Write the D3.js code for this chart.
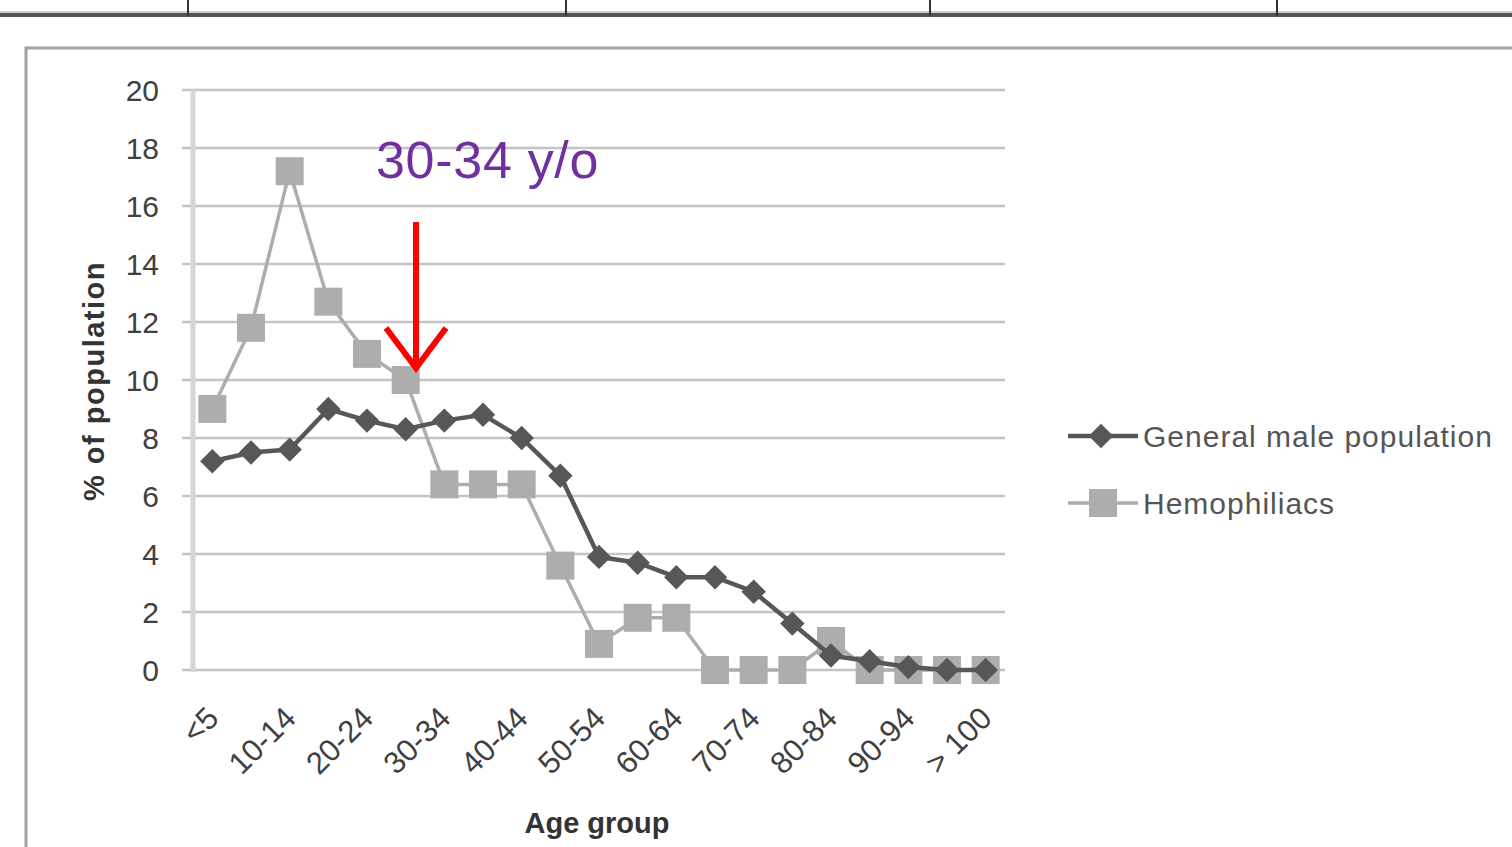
<!DOCTYPE html>
<html>
<head>
<meta charset="utf-8">
<script src="https://cdn.jsdelivr.net/npm/d3@7"></script>
<style>
  html, body { margin: 0; padding: 0; background: #fff; overflow: hidden; }
  svg { display: block; }
  text { font-family: "Liberation Sans", Arial, sans-serif; }
</style>
</head>
<body>
<svg id="chart" width="1512" height="847"></svg>
<script>
'use strict';

// ── Data ──────────────────────────────────────────────────────────────────
const ageGroups = ['<5', '5-9', '10-14', '15-19', '20-24', '25-29', '30-34', '35-39', '40-44', '45-49',
                   '50-54', '55-59', '60-64', '65-69', '70-74', '75-79', '80-84', '85-89', '90-94', '95-99', '> 100'];
const generalMale  = [7.2, 7.5, 7.6, 9.0, 8.6, 8.3, 8.6, 8.8, 8.0, 6.7, 3.9, 3.7, 3.2, 3.2, 2.7, 1.6, 0.5, 0.3, 0.1, 0, 0];
const hemophiliacs = [9.0, 11.8, 17.2, 12.7, 10.9, 10.0, 6.4, 6.4, 6.4, 3.6, 0.9, 1.8, 1.8, 0, 0, 0, 1.0, 0, 0, 0, 0];
const yTicks = [0, 2, 4, 6, 8, 10, 12, 14, 16, 18, 20];
const seriesNames = ['General male population', 'Hemophiliacs'];
const tableCols = [188, 566, 930, 1277];

const svg = d3.select('#chart');

// ── Table remnant at top + chart frame ───────────────────────────────────
svg.append('line').attr('x1', 0).attr('x2', 1512).attr('y1', 15).attr('y2', 15)
  .attr('stroke', '#555').attr('stroke-width', 4);
svg.append('line').attr('x1', 0).attr('x2', 1512).attr('y1', 12).attr('y2', 12)
  .attr('stroke', '#ccc').attr('stroke-width', 2);
svg.selectAll('.tcol').data(tableCols).join('line')
  .attr('x1', d => d).attr('x2', d => d).attr('y1', 0).attr('y2', 16)
  .attr('stroke', '#333').attr('stroke-width', 2);
svg.append('rect').attr('x', 26).attr('y', 48).attr('width', 1530).attr('height', 850)
  .attr('fill', 'none').attr('stroke', '#a0a0a0').attr('stroke-width', 3);

// ── Scales ────────────────────────────────────────────────────────────────
const x = d3.scaleBand().domain(ageGroups).range([193, 1005]);
const y = d3.scaleLinear().domain([0, 20]).range([670, 90]);
const cx = d => x(d) + x.bandwidth() / 2;

// gridlines
svg.append('g').selectAll('line').data(yTicks).join('line')
  .attr('x1', 182).attr('x2', 1005)
  .attr('y1', d => y(d)).attr('y2', d => y(d))
  .attr('stroke', '#c4c4c4').attr('stroke-width', 2.5);
// y axis line
svg.append('line').attr('x1', 193).attr('x2', 193).attr('y1', 90).attr('y2', 672)
  .attr('stroke', '#d6d6d6').attr('stroke-width', 5);

// y tick labels
svg.append('g').selectAll('text').data(yTicks).join('text')
  .attr('x', 159).attr('y', d => y(d)).attr('dy', '0.36em')
  .attr('text-anchor', 'end').attr('font-size', 30).attr('fill', '#404040')
  .text(d => d);

// x tick labels (every other category)
svg.append('g').selectAll('text').data(ageGroups.filter((d, i) => i % 2 === 0)).join('text')
  .attr('transform', d => `translate(${cx(d) + 8},${720}) rotate(-45)`)
  .attr('text-anchor', 'end').attr('font-size', 31).attr('fill', '#404040')
  .text(d => d);

// axis titles
svg.append('text').attr('transform', 'translate(104,381) rotate(-90)')
  .attr('text-anchor', 'middle').attr('font-size', 29).attr('font-weight', 'bold').attr('fill', '#333')
  .attr('letter-spacing', 1.5)
  .text('% of population');
svg.append('text').attr('x', 597).attr('y', 833)
  .attr('text-anchor', 'middle').attr('font-size', 29).attr('font-weight', 'bold').attr('fill', '#333')
  .text('Age group');

// ── Series ────────────────────────────────────────────────────────────────
const line = d3.line().x((d, i) => cx(ageGroups[i])).y(d => y(d));
const hemoColor = '#adadad', genColor = '#575757';

svg.append('path').datum(hemophiliacs).attr('d', line)
  .attr('fill', 'none').attr('stroke', hemoColor).attr('stroke-width', 3.5);
svg.append('g').selectAll('rect').data(hemophiliacs).join('rect')
  .attr('x', (d, i) => cx(ageGroups[i]) - 14).attr('y', d => y(d) - 14)
  .attr('width', 28).attr('height', 28).attr('fill', hemoColor);

svg.append('path').datum(generalMale).attr('d', line)
  .attr('fill', 'none').attr('stroke', genColor).attr('stroke-width', 4.5);
const diamond = d3.symbol().type(d3.symbolDiamond2).size(380);
svg.append('g').selectAll('path').data(generalMale).join('path')
  .attr('transform', (d, i) => `translate(${cx(ageGroups[i])},${y(d)})`)
  .attr('d', diamond).attr('fill', genColor);

// ── Annotation ────────────────────────────────────────────────────────────
svg.append('text').attr('x', 376).attr('y', 178)
  .attr('font-size', 52).attr('letter-spacing', 0.7).attr('fill', '#7030a0').text('30-34 y/o');
const ax = 416;
svg.append('line').attr('x1', ax).attr('x2', ax).attr('y1', 222).attr('y2', 364)
  .attr('stroke', '#ff0000').attr('stroke-width', 6);
svg.append('path')
  .attr('d', `M${ax - 30},${328} L${ax},${368} L${ax + 30},${328}`)
  .attr('fill', 'none').attr('stroke', '#ff0000').attr('stroke-width', 6);

// ── Legend ────────────────────────────────────────────────────────────────
const legend = svg.append('g').selectAll('g').data(seriesNames).join('g')
  .attr('transform', (d, i) => `translate(1068,${436 + i * 67})`);
legend.append('line').attr('x1', 0).attr('x2', 70)
  .attr('stroke', (d, i) => i ? hemoColor : genColor).attr('stroke-width', (d, i) => i ? 3.5 : 4.5);
legend.each(function (d, i) {
  const g = d3.select(this);
  if (i === 0) g.append('path').attr('transform', 'translate(33,0)').attr('d', diamond).attr('fill', genColor);
  else g.append('rect').attr('x', 21).attr('y', -14).attr('width', 28).attr('height', 28).attr('fill', hemoColor);
});
legend.append('text').attr('x', 75).attr('dy', '0.36em')
  .attr('font-size', 30).attr('letter-spacing', 1).attr('fill', '#555').text(d => d);
</script>
</body>
</html>
